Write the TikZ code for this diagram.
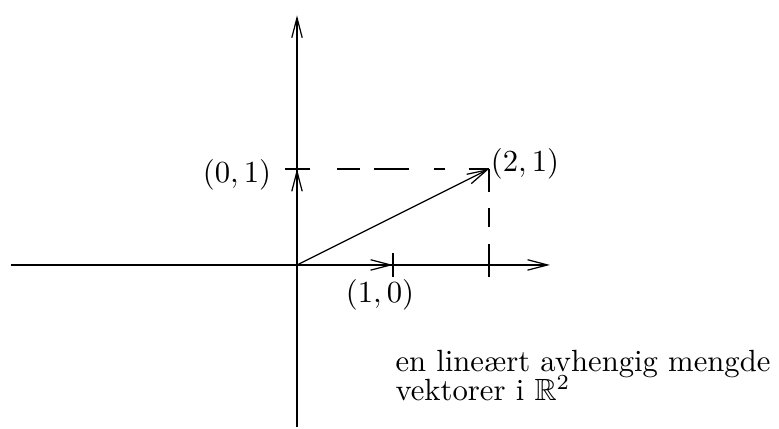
\documentclass[tikz,border=0pt]{standalone}
\usepackage{amsmath,amssymb}
\usepackage{tikz}
\usetikzlibrary{arrows.meta}
\tikzset{
  vec/.style={-{Straight Barb[length=6.5pt,width=3.4pt]}},
  hdash/.style={dash pattern=on 4.2pt off 8.8pt on 7.5pt off 4.6pt on 11.4pt off 8.1pt on 3.6pt off 7.8pt on 20pt},
  vdash/.style={dash pattern=on 7.5pt off 5.2pt on 6.2pt off 5.5pt on 20pt},
  lbl/.style={anchor=base,inner sep=0pt},
  txt/.style={anchor=base west,inner sep=0pt}
}
\begin{document}
\begin{tikzpicture}[x=1.1cm,y=1.1cm]
\useasboundingbox (-3.094,-1.708) rectangle (5.021,2.760);
\def\t{0.125}
% punkter
\coordinate (O) at (0,0);
\coordinate (xl) at (-2.98,0);\coordinate (xr) at (2.635,0);
\coordinate (yb) at (0,-1.69);\coordinate (yt) at (0,2.6);
\coordinate (e1) at (1,0);\coordinate (e2) at (0,1);
\coordinate (v) at (2,1);\coordinate (vx) at (2,0);
% akser
\draw[vec] (xl) -- (xr);
\draw[vec] (yb) -- (yt);
% vektorer
\draw[vec] (O) -- (e1);
\draw[vec] (O) -- (e2);
\draw[vec] (O) -- (v);
\draw[hdash] (e2) -- (v);
\draw[vdash] (v) -- (vx);
% merker
\foreach \p in {e1,vx} \draw (\p) ++(0,-\t) -- ++(0,2*\t);
\draw (e2) ++(-\t,0) -- ++(2*\t,0);
% tekst
\node[lbl] (l10) at (0.865,-0.396) {$(1,0)$};
\node[lbl] (l01) at (-0.625,0.854) {$(0,1)$};
\node[lbl] (l21) at (2.375,0.969) {$(2,1)$};
\node[txt] (t1) at (1.02,-1.105) {en lineært avhengig mengde};
\node[txt] (t2) at (1.02,-1.415) {vektorer i $\mathbb{R}^2$};
\end{tikzpicture}
\end{document}
